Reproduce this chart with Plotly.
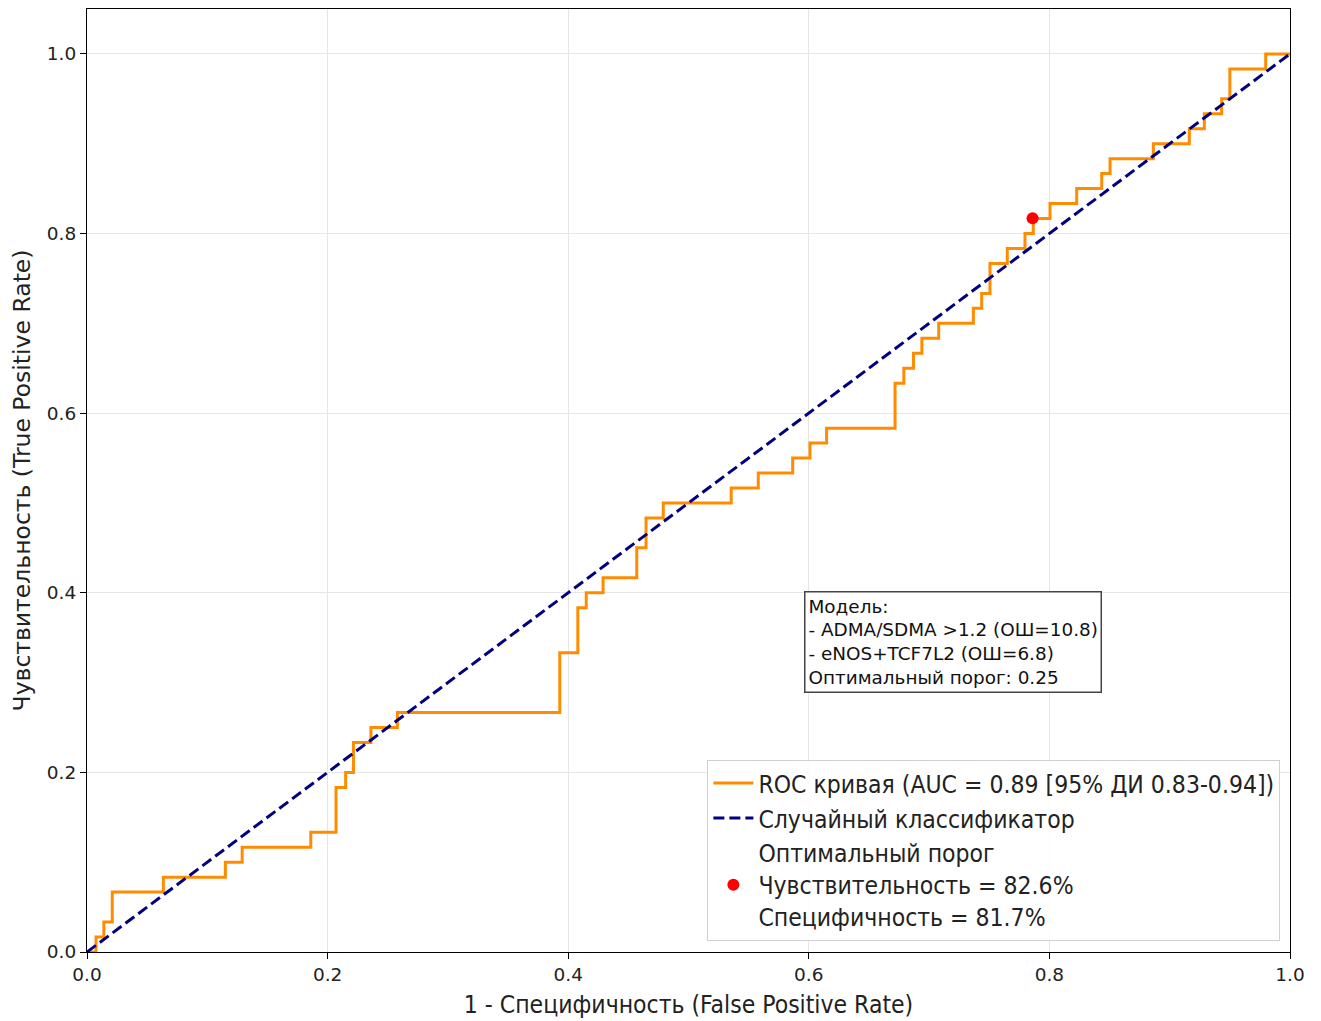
import plotly.graph_objects as go

# ROC curve step points (false positive rate, true positive rate)
fpr = [0.0, 0.0075, 0.014, 0.021, 0.0635, 0.115, 0.129, 0.186, 0.207, 0.215,
       0.2215, 0.236, 0.258, 0.393, 0.408, 0.415, 0.429, 0.457, 0.4647, 0.479,
       0.5355, 0.558, 0.5866, 0.601, 0.6148, 0.6717, 0.679, 0.687, 0.694, 0.708,
       0.7368, 0.7437, 0.7506, 0.765, 0.7797, 0.7866, 0.8005, 0.8227, 0.8435, 0.8504,
       0.8864, 0.9163, 0.9288, 0.9432, 0.950, 0.9798, 1.0]
tpr = [0.0, 0.0167, 0.0333, 0.0667, 0.0833, 0.1, 0.1167, 0.1333, 0.1833, 0.2,
       0.2333, 0.25, 0.2667, 0.3333, 0.3833, 0.4, 0.4167, 0.45, 0.4833, 0.5,
       0.5167, 0.5333, 0.55, 0.5667, 0.5833, 0.6333, 0.65, 0.6667, 0.6833, 0.7,
       0.7167, 0.7333, 0.7667, 0.7833, 0.8, 0.8167, 0.8333, 0.85, 0.8667, 0.8833,
       0.9, 0.9167, 0.9333, 0.95, 0.9833, 1.0, 1.0]

diag_x = [0.0, 1.0]
diag_y = [0.0, 1.0]

opt_x = [0.786]
opt_y = [0.817]

x_ticks = [0.0, 0.2, 0.4, 0.6, 0.8, 1.0]
y_ticks = [0.0, 0.2, 0.4, 0.6, 0.8, 1.0]

roc_label = "ROC кривая (AUC = 0.89 [95% ДИ 0.83-0.94])"
diag_label = "Случайный классификатор"
opt_label = "Оптимальный порог<br>Чувствительность = 82.6%<br>Специфичность = 81.7%"
model_text = ("Модель:<br>- ADMA/SDMA >1.2 (ОШ=10.8)<br>- eNOS+TCF7L2 (ОШ=6.8)"
              "<br>Оптимальный порог: 0.25")

COND = "DejaVu Sans Condensed, DejaVu Sans, sans-serif"
REG = "DejaVu Sans, sans-serif"

fig = go.Figure()
fig.add_trace(go.Scatter(x=fpr, y=tpr, mode="lines", line=dict(color="darkorange", width=3, shape="hv"),
                         name=roc_label))
fig.add_trace(go.Scatter(x=diag_x, y=diag_y, mode="lines",
                         line=dict(color="navy", width=3, dash="11px,5px"), name=diag_label))
fig.add_trace(go.Scatter(x=opt_x, y=opt_y, mode="markers",
                         marker=dict(color="red", size=12), name=opt_label))

axis_common = dict(showline=True, linecolor="black", linewidth=1.2, mirror=True,
                   ticks="outside", ticklen=6, tickcolor="black",
                   showgrid=True, gridcolor="#e6e6e6", gridwidth=1, zeroline=False,
                   tickformat=".1f", tickfont=dict(family=REG, size=18.5, color="#222"))

fig.update_xaxes(range=[0, 1], tickvals=x_ticks, **axis_common,
                 title=dict(text="1 - Специфичность (False Positive Rate)",
                            font=dict(family=COND, size=24.5, color="#222"), standoff=11))
fig.update_yaxes(range=[0, 1.05], tickvals=y_ticks, **axis_common,
                 title=dict(text="Чувствительность (True Positive Rate)",
                            font=dict(family=REG, size=23.5, color="#222"), standoff=9))

fig.add_annotation(x=0.596, y=0.402, xref="x", yref="y", xanchor="left", yanchor="top",
                   text=model_text, showarrow=False, align="left",
                   font=dict(family=REG, size=18.4, color="#111"),
                   bordercolor="#444", borderwidth=1.5, borderpad=3, bgcolor="white")

fig.update_layout(
    width=1305, height=1013,
    margin=dict(l=79, r=23, t=1, b=69),
    plot_bgcolor="white", paper_bgcolor="white",
    legend=dict(x=0.992, y=0.012, xanchor="right", yanchor="bottom",
                bgcolor="rgba(255,255,255,0.85)", bordercolor="#d0d0d0", borderwidth=1,
                font=dict(family=COND, size=24.5, color="#222"), itemwidth=40,
                tracegroupgap=2),
    showlegend=True,
)

fig.write_html("out.html")
